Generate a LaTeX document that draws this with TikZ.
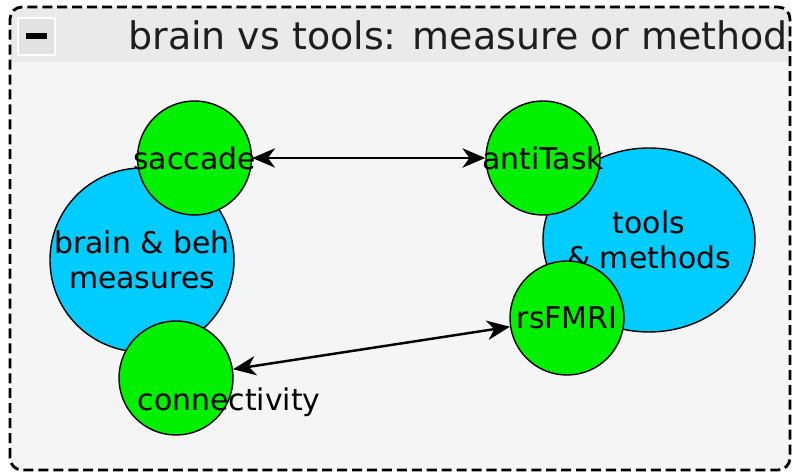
\documentclass[tikz,border=0pt]{standalone}
\usepackage{fontspec}
\setmainfont{DejaVu Sans}
\usetikzlibrary{arrows.meta,shapes.geometric}
\definecolor{panelbg}{RGB}{245,245,245}
\definecolor{headerbg}{RGB}{234,234,234}
\definecolor{togglebg}{RGB}{226,226,226}
\definecolor{hubblue}{RGB}{0,204,255}
\definecolor{leafgreen}{RGB}{0,240,0}
\definecolor{titlegray}{RGB}{30,30,30}

\begin{document}
\begin{tikzpicture}

%
% Styles
%
\tikzstyle{hub}   = [circle,draw=black,fill=hubblue,line width=0.8pt,inner sep=0pt,minimum size=3.68cm]
\tikzstyle{tool}  = [ellipse,draw=black,fill=hubblue,line width=0.8pt,inner sep=0pt,minimum width=4.24cm,minimum height=3.68cm]
\tikzstyle{leaf}  = [circle,draw=black,fill=leafgreen,line width=0.8pt,inner sep=0pt,minimum size=2.28cm]
\tikzstyle{txt}   = [font=\fontsize{17}{20}\selectfont,align=center,inner sep=0pt]

\tikzstyle{edge}  = [<->,>={Stealth[length=13pt,width=11pt,inset=4pt]},line width=1.4pt]

\useasboundingbox (0,0) rectangle (15.88,9.48);

% panel
\begin{scope}
  \clip[rounded corners=0.24cm] (0.2,0.08) rectangle (15.8,9.34);
  \fill[panelbg]  (0.2,0.08) rectangle (15.8,9.34);
  \fill[headerbg] (0.2,8.24) rectangle (15.8,9.34);
\end{scope}
\draw[dash pattern=on 5.7pt off 2.8pt,line width=1.6pt,rounded corners=0.24cm] (0.2,0.08) rectangle (15.8,9.34);

\node[draw=gray,double=white,double distance=0.6pt,fill=togglebg,minimum size=0.74cm,inner sep=0pt] (toggle) at (0.73,8.75) {\rule{0.42cm}{0.12cm}};
\node[anchor=base west,font=\fontsize{21.6}{26}\selectfont,text=titlegray,inner sep=0pt] (title) at (2.56,8.48) {brain vs tools: measure or method};

\node[hub,label={[txt]center:brain \& beh\\measures}]  (brain) at ( 2.84, 4.28) {};
\node[tool,label={[txt]center:tools\\\& methods}]      (tools) at (12.98, 4.68) {};
\node[leaf,label={[txt]center:saccade}]                (sacc)  at ( 3.89, 6.32) {};
\node[leaf,label={[txt,xshift=1.06cm,yshift=-0.48cm]center:connectivity}] (conn) at ( 3.52, 1.92) {};
\node[leaf,label={[txt]center:antiTask}]               (anti)  at (10.86, 6.32) {};
\node[leaf,label={[txt]center:rsFMRI}]                 (rs)    at (11.34, 3.12) {};

\draw[edge] (sacc) -- (anti);
\draw[edge] (conn) -- (rs);

\end{tikzpicture}
\end{document}
